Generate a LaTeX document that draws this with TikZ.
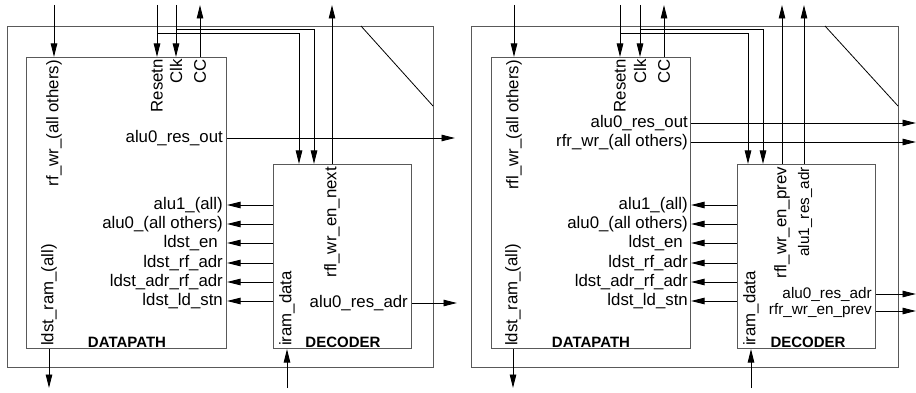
\documentclass[tikz,border=0pt]{standalone}
\usepackage{fontspec}
\setmainfont{Liberation Sans}
\usetikzlibrary{arrows.meta}
\begin{document}
\begin{tikzpicture}[x=1pt,y=-1pt,
  box/.style={draw=black!65, line width=1.1pt, inner sep=0pt, anchor=north west},
  sig/.style={draw=black, line width=0.9pt},
  arr/.style={sig, -{Triangle[length=13.5pt,width=6.5pt]}},
  diag/.style={draw=black, line width=0.8pt},
  lbl/.style={font=\fontsize{16.8}{18}\selectfont, inner sep=0pt},
  slbl/.style={font=\fontsize{15.3}{17}\selectfont, inner sep=0pt},
  vlbl/.style={lbl, rotate=90, anchor=east},
  vlblb/.style={lbl, rotate=90, anchor=west},
  rlbl/.style={lbl, anchor=east},
  title/.style={font=\fontsize{15}{17}\selectfont\bfseries, inner sep=0pt}
]
\useasboundingbox (0,0) rectangle (916,393);

% ================= LEFT PANEL =================
\node[box, minimum width=426pt, minimum height=341pt] (out1) at (7,26) {};
\node[box, minimum width=200pt, minimum height=291pt] (dp1) at (26,57) {};
\node[box, minimum width=138pt, minimum height=184pt] (dc1) at (273,164) {};
\coordinate (d1a) at (361,26);
\coordinate (d1b) at (433,106);
\draw[diag] (d1a) -- (d1b);

\coordinate (rfw1) at (54,5);
\draw[arr] (rfw1) -- (rfw1 |- dp1.north);
\coordinate (rst1) at (157,5);
\draw[arr] (rst1) -- (rst1 |- dp1.north);
\coordinate (clk1) at (176,5);
\draw[arr] (clk1) -- (clk1 |- dp1.north);
\coordinate (rstb1) at (157,33);
\coordinate (rstc1) at (299,33);
\draw[arr] (rstb1) -- (rstc1) -- (rstc1 |- dc1.north);
\coordinate (clkb1) at (176,29);
\coordinate (clkc1) at (314,29);
\draw[arr] (clkb1) -- (clkc1) -- (clkc1 |- dc1.north);
\coordinate (cc1) at (200,5);
\draw[arr] (cc1 |- dp1.north) -- (cc1);
\coordinate (nx1) at (332,5);
\draw[arr] (nx1 |- dc1.north) -- (nx1);
\coordinate (ro1) at (455,138);
\draw[arr] (ro1 -| dp1.east) -- (ro1);
\foreach \yy [count=\i] in {205,224,243,263,282,301} {
  \coordinate (la\i) at (250,\yy);
  \draw[arr] (dc1.west |- la\i) -- (dp1.east |- la\i);
}
\coordinate (ra1) at (457,303);
\draw[arr] (ra1 -| dc1.east) -- (ra1);
\coordinate (ld1) at (49,388);
\draw[arr] (ld1 |- dp1.south) -- (ld1);
\coordinate (ir1) at (287,388);
\draw[arr] (ir1) -- (ir1 |- dc1.south);

\node[vlbl] (t1a) at (54,60) {rf\_wr\_(all others)};
\node[vlbl] (t1b) at (157,59) {Resetn};
\node[vlbl] (t1c) at (176,59) {Clk};
\node[vlbl] (t1d) at (200,59) {CC};
\node[rlbl] (t1e) at (223,138) {alu0\_res\_out};
\node[rlbl] (t1f) at (223,205) {alu1\_(all)};
\node[rlbl] (t1g) at (223,224) {alu0\_(all others)};
\node[rlbl] (t1h) at (218,243) {ldst\_en};
\node[rlbl] (t1i) at (223,263) {ldst\_rf\_adr};
\node[rlbl] (t1j) at (223,282) {ldst\_adr\_rf\_adr};
\node[rlbl] (t1k) at (223,301) {ldst\_ld\_stn};
\node[vlblb] (t1l) at (49,346) {ldst\_ram\_(all)};
\node[title] (t1m) at (127,342) {DATAPATH};
\node[vlblb] (t1n) at (287,346) {iram\_data};
\node[vlbl] (t1o) at (332,167) {rfl\_wr\_en\_next};
\node[rlbl] (t1p) at (408,303) {alu0\_res\_adr};
\node[title] (t1q) at (343,342) {DECODER};

% ================= RIGHT PANEL =================
\node[box, minimum width=427pt, minimum height=341pt] (out2) at (471,26) {};
\node[box, minimum width=199pt, minimum height=291pt] (dp2) at (491,57) {};
\node[box, minimum width=138pt, minimum height=184pt] (dc2) at (737,164) {};
\coordinate (d2a) at (825,26);
\coordinate (d2b) at (898,106);
\draw[diag] (d2a) -- (d2b);

\coordinate (rfw2) at (514,5);
\draw[arr] (rfw2) -- (rfw2 |- dp2.north);
\coordinate (rst2) at (620,5);
\draw[arr] (rst2) -- (rst2 |- dp2.north);
\coordinate (clk2) at (640,5);
\draw[arr] (clk2) -- (clk2 |- dp2.north);
\coordinate (rstb2) at (620,33);
\coordinate (rstc2) at (748,33);
\draw[arr] (rstb2) -- (rstc2) -- (rstc2 |- dc2.north);
\coordinate (clkb2) at (640,29);
\coordinate (clkc2) at (763,29);
\draw[arr] (clkb2) -- (clkc2) -- (clkc2 |- dc2.north);
\coordinate (cc2) at (664,5);
\draw[arr] (cc2 |- dp2.north) -- (cc2);
\coordinate (pv2) at (782,5);
\draw[arr] (pv2 |- dc2.north) -- (pv2);
\coordinate (a1r2) at (804,5);
\draw[arr] (a1r2 |- dc2.north) -- (a1r2);
\coordinate (ro2) at (916,123);
\draw[arr] (ro2 -| dp2.east) -- (ro2);
\coordinate (rr2) at (916,142);
\draw[arr] (rr2 -| dp2.east) -- (rr2);
\foreach \yy [count=\i] in {205,224,243,263,282,301} {
  \coordinate (lb\i) at (714,\yy);
  \draw[arr] (dc2.west |- lb\i) -- (dp2.east |- lb\i);
}
\coordinate (ra2) at (916,294);
\draw[arr] (ra2 -| dc2.east) -- (ra2);
\coordinate (rp2) at (916,311);
\draw[arr] (rp2 -| dc2.east) -- (rp2);
\coordinate (ld2) at (513,388);
\draw[arr] (ld2 |- dp2.south) -- (ld2);
\coordinate (ir2) at (751,388);
\draw[arr] (ir2) -- (ir2 |- dc2.south);

\node[vlbl] (t2a) at (514,60) {rfl\_wr\_(all others)};
\node[vlbl] (t2b) at (620,59) {Resetn};
\node[vlbl] (t2c) at (640,59) {Clk};
\node[vlbl] (t2d) at (664,59) {CC};
\node[rlbl] (t2e) at (688,123) {alu0\_res\_out};
\node[rlbl] (t2e2) at (688,142) {rfr\_wr\_(all others)};
\node[rlbl] (t2f) at (688,205) {alu1\_(all)};
\node[rlbl] (t2g) at (688,224) {alu0\_(all others)};
\node[rlbl] (t2h) at (683,243) {ldst\_en};
\node[rlbl] (t2i) at (688,263) {ldst\_rf\_adr};
\node[rlbl] (t2j) at (688,282) {ldst\_adr\_rf\_adr};
\node[rlbl] (t2k) at (688,301) {ldst\_ld\_stn};
\node[vlblb] (t2l) at (513,346) {ldst\_ram\_(all)};
\node[title] (t2m) at (591,342) {DATAPATH};
\node[vlblb] (t2n) at (751,346) {iram\_data};
\node[vlbl] (t2o) at (782,167) {rfl\_wr\_en\_prev};
\node[slbl, rotate=90, anchor=east] (t2o2) at (805,167) {alu1\_res\_adr};
\node[slbl, anchor=east] (t2p) at (872,294) {alu0\_res\_adr};
\node[slbl, anchor=east] (t2p2) at (872,311) {rfr\_wr\_en\_prev};
\node[title] (t2q) at (808,342) {DECODER};
\end{tikzpicture}
\end{document}
